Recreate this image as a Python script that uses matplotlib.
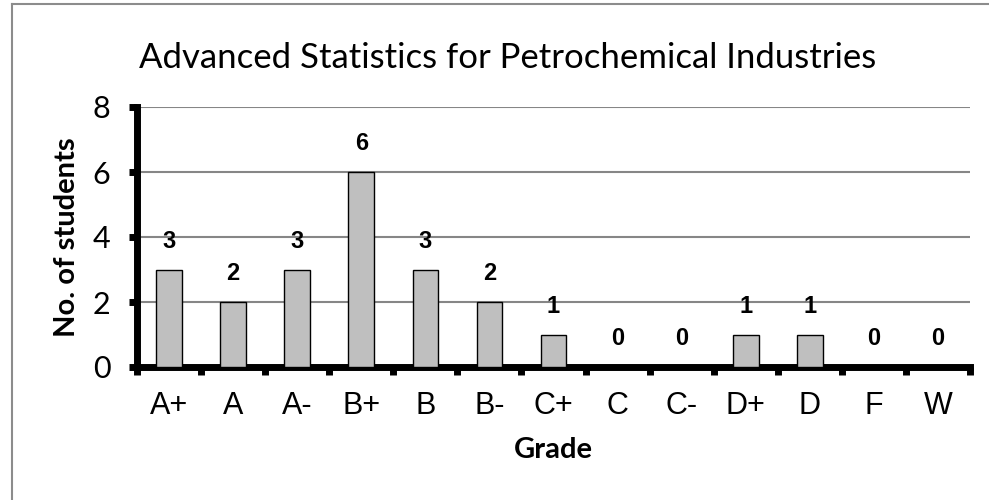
import matplotlib.pyplot as plt
from matplotlib.lines import Line2D

grades = ['A+', 'A', 'A-', 'B+', 'B', 'B-', 'C+', 'C', 'C-', 'D+', 'D', 'F', 'W']
students = [3, 2, 3, 6, 3, 2, 1, 0, 0, 1, 1, 0, 0]

title_font = 'Lato'
tick_font = 'Liberation Sans'

fig = plt.figure(figsize=(9.89, 5.00), dpi=100)
ax = fig.add_axes([137 / 989, 133 / 500, 833 / 989, 260 / 500])

x = list(range(len(grades)))
ax.bar(x, students, width=0.4, color='#bfbfbf', edgecolor='black', linewidth=1.0, zorder=3)

for xi, v in zip(x, students):
    ax.annotate(str(v), (xi, v), xytext=(0, 12), textcoords='offset points',
                ha='center', va='bottom', fontsize=17, fontweight='bold',
                family=tick_font)

ax.set_xlim(-0.5, len(grades) - 0.5)
ax.set_ylim(0, 8)
ax.set_yticks([0, 2, 4, 6, 8])
ax.yaxis.grid(True, color='#868686', linewidth=1.5, zorder=0)
ax.set_axisbelow(True)

for s in ['top', 'right']:
    ax.spines[s].set_visible(False)
for s in ['left', 'bottom']:
    ax.spines[s].set_linewidth(5)
    ax.spines[s].set_capstyle('projecting')

ax.set_xticks(x)
ax.set_xticklabels(grades, fontsize=22, family=tick_font)
ax.tick_params(axis='x', which='major', length=0, pad=17)
ax.set_xticks([i - 0.5 for i in range(len(grades) + 1)], minor=True)
ax.tick_params(axis='x', which='minor', length=6, width=5, direction='out')
ax.tick_params(axis='y', length=6, width=5, direction='out', pad=13)
for lab in ax.get_yticklabels():
    lab.set_fontsize(22)
    lab.set_family(title_font)

ax.set_xlabel('Grade', fontsize=21, fontweight='bold', family=title_font, labelpad=12)
ax.set_ylabel('No. of students', fontsize=21, fontweight='bold', family=title_font, labelpad=9)

fig.text(508 / 989, 1 - 58 / 500, 'Advanced Statistics for Petrochemical Industries',
         ha='center', va='center', fontsize=25, family=title_font)

# chart area border (only left and top edges visible in the crop)
fig.add_artist(Line2D([12 / 989, 12 / 989], [0, 1 - 4 / 500], color='#8c8c8c', linewidth=1.5))
fig.add_artist(Line2D([12 / 989, 1], [1 - 4 / 500, 1 - 4 / 500], color='#8c8c8c', linewidth=1.5))

fig.savefig('out.png', dpi=100)
